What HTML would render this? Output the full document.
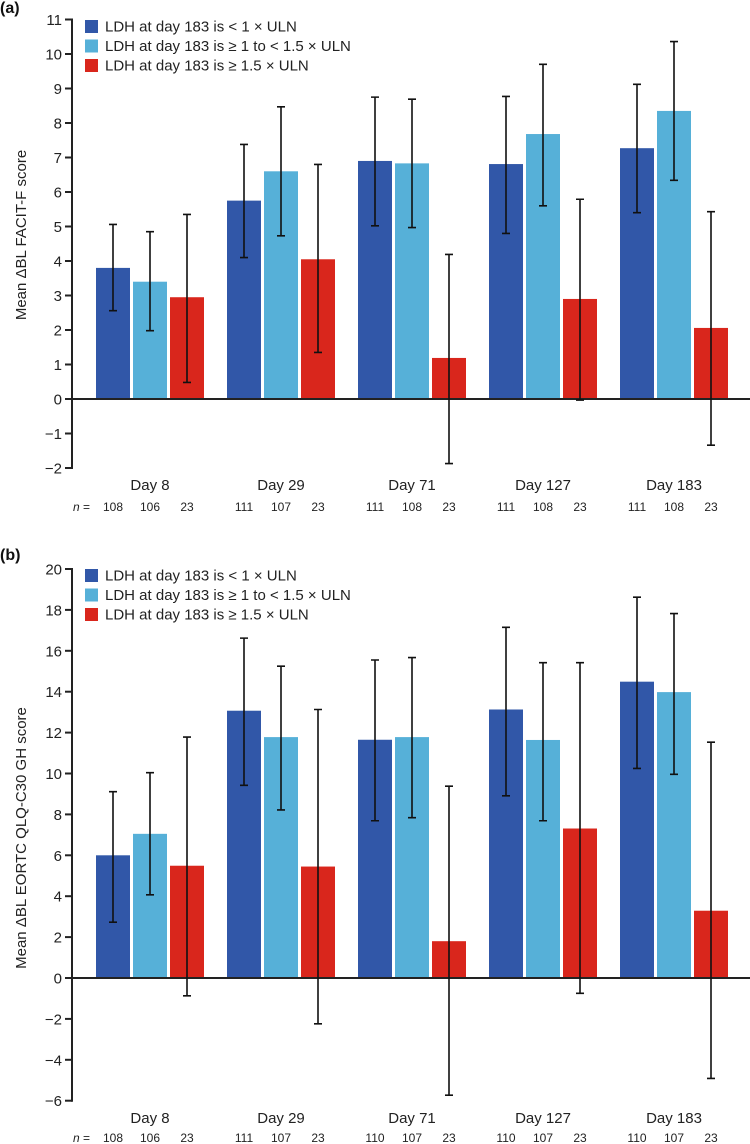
<!DOCTYPE html>
<html><head><meta charset="utf-8"><style>
html,body{margin:0;padding:0;background:#fff;}
svg{display:block;font-family:"Liberation Sans",sans-serif;}
</style></head><body>
<svg id="chart" width="750" height="1144" viewBox="0 0 750 1144" xmlns="http://www.w3.org/2000/svg"></svg>
<script>
const categories = ["Day 8","Day 29","Day 71","Day 127","Day 183"];
const seriesNames = ["LDH at day 183 is < 1 × ULN","LDH at day 183 is ≥ 1 to < 1.5 × ULN","LDH at day 183 is ≥ 1.5 × ULN"];
// Panel (a) FACIT-F
const aMean = [[3.8,5.75,6.9,6.81,7.27],[3.4,6.6,6.83,7.68,8.35],[2.95,4.05,1.19,2.9,2.06]];
const aHigh = [[5.06,7.38,8.75,8.77,9.12],[4.85,8.47,8.69,9.7,10.36],[5.35,6.8,4.19,5.79,5.43]];
const aLow  = [[2.56,4.1,5.02,4.8,5.4],[1.98,4.73,4.97,5.6,6.34],[0.48,1.35,-1.87,-0.03,-1.34]];
const aN = [["108","106","23"],["111","107","23"],["111","108","23"],["111","108","23"],["111","108","23"]];
const aTicks = [-2,-1,0,1,2,3,4,5,6,7,8,9,10,11];
// Panel (b) EORTC QLQ-C30 GH
const bMean = [[6.0,13.07,11.65,13.13,14.49],[7.05,11.78,11.78,11.64,13.98],[5.49,5.45,1.8,7.31,3.29]];
const bHigh = [[9.11,16.62,15.55,17.15,18.62],[10.04,15.25,15.67,15.42,17.82],[11.78,13.13,9.38,15.42,11.53]];
const bLow  = [[2.73,9.42,7.69,8.91,10.25],[4.07,8.22,7.84,7.69,9.96],[-0.87,-2.24,-5.73,-0.75,-4.91]];
const bN = [["108","106","23"],["111","107","23"],["110","107","23"],["110","107","23"],["110","107","23"]];
const bTicks = [-6,-4,-2,0,2,4,6,8,10,12,14,16,18,20];

const colors = ["#3157a8","#56b0d8","#d9261c"];
const NS = "http://www.w3.org/2000/svg";
const svg = document.getElementById("chart");
function mk(tag, attrs, parent){const e=document.createElementNS(NS,tag);for(const k in attrs)e.setAttribute(k,attrs[k]);(parent||svg).appendChild(e);return e;}

function panel(cfg){
  const g = mk("g",{});
  
  
  const axX = 72, x0 = 150, step = 131, bw = 34, gap = 3;
  const yMin = cfg.ticks[0], yMax = cfg.ticks[cfg.ticks.length-1];
  const y = v => cfg.zeroY - v * cfg.unit;
  const xb = (c, s) => x0 + c * step + (s - 1) * (bw + gap);
  const lab = mk("text",{x:0,y:cfg.labY,"font-size":16,"font-weight":"bold",fill:"#111"},g);
  lab.textContent = cfg.label;
  
  
  const yt = mk("text",{x:0,y:0,"font-size":15,fill:"#222","text-anchor":"middle",transform:`translate(26,${cfg.titleY}) rotate(-90)`},g);
  yt.textContent = cfg.title;
  
  
  for(let s=0;s<3;s++){
    for(let c=0;c<categories.length;c++){
      const v = cfg.mean[s][c];
      const cx = xb(c, s);
      const r = mk("rect",{x:cx-bw/2,y:Math.min(y(v),y(0)),width:bw,height:Math.abs(y(v)-y(0)),fill:colors[s]},g);
      
      
    }
  }
  const zl = mk("line",{x1:axX,x2:750,y1:y(0),y2:y(0),stroke:"#222","stroke-width":2},g);
  
  
  const ax = mk("line",{x1:axX,x2:axX,y1:y(yMax)-1,y2:y(yMin)+1,stroke:"#222","stroke-width":2},g);
  
  
  cfg.ticks.forEach(t=>{
    const tl = mk("line",{x1:axX-7,x2:axX,y1:y(t),y2:y(t),stroke:"#222","stroke-width":2},g);
    
    
    const tx = mk("text",{x:axX-10,y:y(t)+5.5,"font-size":15,fill:"#222","text-anchor":"end"},g);
    tx.textContent = t < 0 ? "\u2212" + Math.abs(t) : String(t);
    
    
  });
  for(let s=0;s<3;s++){
    for(let c=0;c<categories.length;c++){
      const cx = xb(c, s);
      const hi = y(cfg.high[s][c]), lo = y(cfg.low[s][c]);
      const e = mk("path",{d:`M${cx},${hi}V${lo}M${cx-4},${hi}H${cx+4}M${cx-4},${lo}H${cx+4}`,stroke:"#111","stroke-width":1.6,fill:"none"},g);
      
      
    }
  }
  categories.forEach((cat,c)=>{
    const t = mk("text",{x:xb(c,1),y:cfg.catY,"font-size":15,fill:"#222","text-anchor":"middle"},g);
    t.textContent = cat;
    
    
    for(let s=0;s<3;s++){
      const n = mk("text",{x:xb(c,s),y:cfg.nY,"font-size":12,fill:"#222","text-anchor":"middle"},g);
      n.textContent = cfg.n[c][s];
      
      
    }
  });
  const nl = mk("text",{x:90,y:cfg.nY,"font-size":12,fill:"#222","text-anchor":"end"},g);
  nl.innerHTML = '<tspan font-style="italic">n</tspan> =';
  
  
  seriesNames.forEach((nm,s)=>{
    const ly = cfg.legY + s*19.5;
    const sw = mk("rect",{x:85,y:ly-6,width:13,height:13,fill:colors[s]},g);
    
    
    const lt = mk("text",{x:105,y:ly+5.5,"font-size":15,fill:"#222"},g);
    lt.textContent = nm;
    
    
  });
}
panel({name:"panel-a-facit-f",label:"(a)",title:"Mean \u0394BL FACIT-F score",mean:aMean,high:aHigh,low:aLow,n:aN,ticks:aTicks,zeroY:399,unit:34.5,labY:13,titleY:235,catY:490,nY:511,legY:26});
panel({name:"panel-b-eortc",label:"(b)",title:"Mean \u0394BL EORTC QLQ-C30 GH score",mean:bMean,high:bHigh,low:bLow,n:bN,ticks:bTicks,zeroY:978,unit:20.45,labY:560,titleY:838,catY:1123,nY:1142,legY:575});
</script>
</body></html>
